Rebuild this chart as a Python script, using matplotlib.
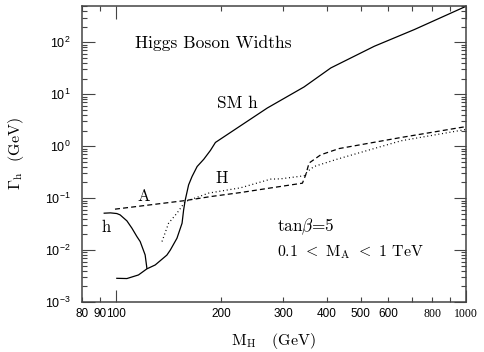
import matplotlib
matplotlib.use('Agg')
import matplotlib.pyplot as plt
from matplotlib.ticker import LogLocator, FuncFormatter, LogFormatterMathtext

# widths (mass in GeV, width in GeV)
sm_mass = [100.6, 107.5, 116.0, 122.6, 129.5, 139.8, 143.0, 149.4, 154.5, 156.1, 157.8,
           161.3, 165.0, 170.6, 178.2, 186.2, 192.4, 222, 270.6, 344.5, 410.9, 546.7, 711.8, 1000]
sm_width = [0.00286, 0.00283, 0.00332, 0.00435, 0.00517, 0.0080, 0.0100, 0.0169, 0.0329, 0.0594, 0.0927,
            0.180, 0.261, 0.406, 0.560, 0.830, 1.18, 2.24, 5.43, 13.8, 32.1, 83.8, 176, 494]

h_mass = [92.6, 96.5, 100.6, 102.8, 107.5, 111.1, 114.8, 117.3, 121.2, 122.6]
h_width = [0.0513, 0.0520, 0.0505, 0.0476, 0.0365, 0.0264, 0.0182, 0.0146, 0.00806, 0.00447]

A_mass = [99.4, 125.3, 157.8, 186.2, 227, 276.6, 340.9, 348.4, 356.1, 384.6, 434, 652, 969, 1000]
A_width = [0.0613, 0.0742, 0.0898, 0.107, 0.128, 0.157, 0.194, 0.281, 0.473, 0.683, 0.90, 1.47, 2.30, 2.38]

H_mass = [135.4, 141.4, 149.4, 157.8, 184.1, 227, 276.6, 295, 344.5, 352.3, 368, 429.4, 652, 1000]
H_width = [0.0146, 0.0329, 0.0513, 0.0859, 0.125, 0.158, 0.232, 0.235, 0.269, 0.326, 0.406, 0.565, 1.27, 2.1]

x_labeled = [80, 90, 100, 200, 300, 400, 500, 600, 800, 1000]

plt.rcParams['font.family'] = 'Liberation Sans'
plt.rcParams['mathtext.fontset'] = 'custom'
plt.rcParams['mathtext.rm'] = 'Liberation Sans'
plt.rcParams['mathtext.it'] = 'Liberation Sans:italic'

serif = dict(fontfamily='cmr10', math_fontfamily='cm')

fig = plt.figure(figsize=(4.85, 3.52), dpi=100)
ax = fig.add_axes([0.169, 0.142, 0.792, 0.841])

ax.plot(sm_mass, sm_width, color='black', lw=0.9)
ax.plot(h_mass, h_width, color='black', lw=0.9)
ax.plot(A_mass, A_width, color='black', lw=0.9, dashes=(4, 2.5))
ax.plot(H_mass, H_width, color='black', lw=0.9, dashes=(0.8, 2.2))

ax.set_xscale('log')
ax.set_yscale('log')
ax.set_xlim(80, 1000)
ax.set_ylim(1e-3, 5e2)

ax.xaxis.set_major_locator(LogLocator(base=10))
ax.xaxis.set_minor_locator(LogLocator(base=10, subs=range(2, 10)))
lab = FuncFormatter(lambda v, _: f'{v:g}' if round(v) in x_labeled else '')
ax.xaxis.set_major_formatter(lab)
ax.xaxis.set_minor_formatter(lab)
ax.yaxis.set_major_locator(LogLocator(base=10))
ax.yaxis.set_minor_locator(LogLocator(base=10, subs=range(2, 10)))
ax.yaxis.set_major_formatter(LogFormatterMathtext())

ax.tick_params(which='both', direction='in', top=True, right=True, width=0.8, color='#444444')
ax.tick_params(which='major', length=9)
ax.tick_params(which='minor', length=3.6)
ax.tick_params(axis='x', which='both', pad=4.5, labelsize=8.5)
ax.tick_params(axis='y', which='both', pad=8, labelsize=9)
for s in ax.spines.values():
    s.set_linewidth(1.1)
    s.set_color('#444444')

ax.set_xlabel(r'M$_{\rm H}$   (GeV)', fontsize=11.5, labelpad=8, **serif)
ax.set_ylabel(r'$\Gamma_{\rm h}$  (GeV)', fontsize=11.5, labelpad=14, **serif)

tr = ax.transAxes
ax.text(0.138, 0.875, 'Higgs Boson Widths', transform=tr, fontsize=12.6, va='center', **serif)
ax.text(0.351, 0.671, 'SM h', transform=tr, fontsize=12.4, va='center', **serif)
ax.text(0.160, 0.356, 'A', transform=tr, fontsize=12, va='center', ha='center', **serif)
ax.text(0.064, 0.252, 'h', transform=tr, fontsize=12, va='center', ha='center', **serif)
ax.text(0.364, 0.418, 'H', transform=tr, fontsize=12, va='center', ha='center', **serif)
ax.text(0.507, 0.254, r'tan$\beta$=5', transform=tr, fontsize=12.4, va='center', **serif)
ax.text(0.507, 0.170, r'0.1 $<$ M$_{\rm A}$ $<$ 1 TeV', transform=tr, fontsize=11.4, va='center', **serif)

fig.canvas.draw()
for t in ax.get_xticklabels(which='both'):
    if t.get_text() in ('800', '1000'):
        t.set_fontfamily('Liberation Serif')

fig.savefig('out.png', dpi=100)
